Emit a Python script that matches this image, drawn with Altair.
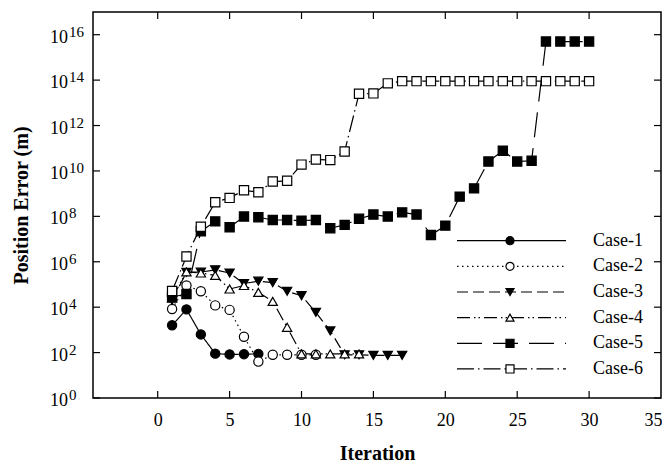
import altair as alt
import pandas as pd

cases = ["Case-1", "Case-2", "Case-3", "Case-4", "Case-5", "Case-6"]

case1 = [1.6e3, 8e3, 6.3e2, 90, 83, 85, 88]
case2 = [8.3e3, 9e4, 5e4, 1.2e4, 7.6e3, 5e2, 40, 80, 80, 80, 80]
case3 = [2e4, 3.4e5, 3.5e5, 4.4e5, 3.2e5, 1.1e5, 1.4e5, 1.2e5, 5e4, 3.2e4,
         5.9e3, 9e2, 80, 80, 75, 75, 75]
case4 = [2.5e4, 3.6e5, 3.2e5, 2.5e5, 6.3e4, 9e4, 4.5e4, 1.8e4, 1.3e3, 87,
         87, 87, 87, 87]
case5 = [2.8e4, 3.8e4, 2.2e7, 6e7, 3.3e7, 9.8e7, 9.1e7, 6.9e7, 6.9e7, 6.5e7,
         6.9e7, 3e7, 4.2e7, 7.8e7, 1.2e8, 9.8e7, 1.5e8, 1.2e8, 1.5e7, 3.9e7,
         7.4e8, 1.7e9, 2.6e10, 7.8e10, 2.6e10, 2.8e10, 5e15, 5e15, 5e15, 5e15]
case6 = [5.2e4, 1.7e6, 3.5e7, 4.2e8, 6.5e8, 1.4e9, 1.15e9, 3.4e9, 3.7e9, 1.9e10,
         3.2e10, 3e10, 7.2e10, 2.5e13, 2.6e13, 7.2e13] + [9e13] * 14

x_ticks = [0, 5, 10, 15, 20, 25, 30]
x_labels = [0, 5, 10, 15, 20, 25, 30, 35]
y_ticks = [1e0, 1e2, 1e4, 1e6, 1e8, 1e10, 1e12, 1e14, 1e16]
y_exps = ["0", "2", "4", "6", "8", "10", "12", "14", "16"]

series = [case1, case2, case3, case4, case5, case6]
rows = []
for name, vals in zip(cases, series):
    for i, v in enumerate(vals):
        rows.append({"case": name, "iter": i + 1, "err": v})
df = pd.DataFrame(rows)

W, H = 568, 386
FONT = "Liberation Serif"
dashes = [[1, 0], [1.5, 3.5], [11, 5], [13, 4, 1.5, 3, 1.5, 4], [25, 11], [17, 4, 1.5, 4]]
shapes = ["circle", "circle", "triangle-down", "triangle-up", "square", "square"]
fills = ["black", "white", "black", "white", "black", "white"]

xscale = alt.Scale(domain=[-4.5, 35], nice=False, zero=False)
yscale = alt.Scale(type="log", domain=[1, 1e17], nice=False)

x_enc = alt.X("iter:Q", scale=xscale,
              axis=alt.Axis(values=x_labels, ticks=False, domain=False, grid=False,
                            labelFont=FONT, labelFontSize=18, labelColor="black",
                            labelPadding=13, labelFlush=True, labelFlushOffset=1,
                            labelOverlap=False,
                            title="Iteration", titleFont=FONT, titleFontSize=20,
                            titleFontWeight="bold", titleColor="black",
                            titleX=W / 2, titleY=55, titleBaseline="middle"))
y_enc = alt.Y("err:Q", scale=yscale,
              axis=alt.Axis(values=y_ticks, ticks=False, domain=False, grid=False,
                            labels=False,
                            title="Position Error (m)", titleFont=FONT, titleFontSize=20,
                            titleFontWeight="bold", titleColor="black",
                            titleX=-72, titleY=H / 2, titleBaseline="middle"))

lines = alt.Chart(df).mark_line(strokeWidth=1.2, color="black").encode(
    x=x_enc, y=y_enc,
    detail="case:N",
    strokeDash=alt.StrokeDash("case:N", scale=alt.Scale(domain=cases, range=dashes), legend=None),
)
points = alt.Chart(df).mark_point(filled=True, stroke="black", strokeWidth=1.2, size=85, opacity=1).encode(
    x="iter:Q", y="err:Q",
    shape=alt.Shape("case:N", scale=alt.Scale(domain=cases, range=shapes), legend=None),
    fill=alt.Fill("case:N", scale=alt.Scale(domain=cases, range=fills), legend=None),
)

xt = pd.DataFrame({"iter": x_ticks})
yt = pd.DataFrame({"err": y_ticks, "e": y_exps})
tick_style = dict(color="black", strokeWidth=1.2)
tb = alt.Chart(xt).mark_rule(**tick_style).encode(x="iter:Q", y=alt.value(H), y2=alt.value(H - 7))
tt = alt.Chart(xt).mark_rule(**tick_style).encode(x="iter:Q", y=alt.value(0), y2=alt.value(7))
tl = alt.Chart(yt).mark_rule(**tick_style).encode(y="err:Q", x=alt.value(0), x2=alt.value(7))
tr = alt.Chart(yt).mark_rule(**tick_style).encode(y="err:Q", x=alt.value(W), x2=alt.value(W - 7))

ybase = alt.Chart(yt).mark_text(text="10", align="left", baseline="alphabetic", dy=8,
                                font=FONT, fontSize=18, color="black").encode(
    y="err:Q", x=alt.value(-43))
yexp = alt.Chart(yt).mark_text(align="left", baseline="alphabetic", dy=2,
                               font=FONT, fontSize=15, color="black").encode(
    y="err:Q", x=alt.value(-24), text="e:N")

legend_layers = []
for i, name in enumerate(cases):
    ly = 228.7 + i * 25.65
    ldf = pd.DataFrame({"label": [name]})
    base = alt.Chart(ldf)
    legend_layers.append(base.mark_rule(color="black", strokeWidth=1.2, strokeDash=dashes[i]).encode(
        x=alt.value(364), x2=alt.value(473), y=alt.value(ly)))
    legend_layers.append(base.mark_point(shape=shapes[i], filled=True, fill=fills[i], stroke="black",
                                         strokeWidth=1.2, size=65, opacity=1).encode(
        x=alt.value(417), y=alt.value(ly)))
    legend_layers.append(base.mark_text(align="left", baseline="middle", font=FONT, fontSize=18,
                                        color="black").encode(
        x=alt.value(500), y=alt.value(ly), text="label:N"))

chart = alt.layer(lines, points, tb, tt, tl, tr, ybase, yexp, *legend_layers).properties(
    width=W, height=H,
    padding={"left": 85, "top": 4, "right": 1, "bottom": 68},
    autosize=alt.AutoSizeParams(type="none"),
).configure_view(stroke="black", strokeWidth=1.5)

chart.save("out.html", embed_options={"renderer": "svg", "actions": False})
